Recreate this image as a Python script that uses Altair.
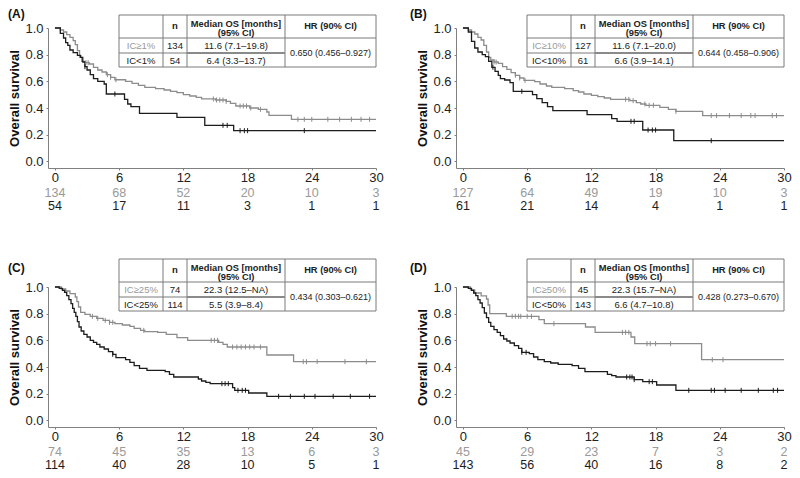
import altair as alt
import pandas as pd

# ---------------- data ----------------
RISK_T = [0, 6, 12, 18, 24, 30]
Y_TICKS = [0.0, 0.2, 0.4, 0.6, 0.8, 1.0]

# Panel A
tA_hi = [0, 0.5, 0.8, 1.1, 1.4, 1.7, 1.9, 2.1, 2.3, 2.5, 2.8, 3.2, 3.6, 4.0, 4.4, 4.8, 5.2, 5.6, 6.6, 7.2, 7.8, 8.4, 9.4, 10.2, 10.8, 11.4, 12.0, 12.6, 13.2, 13.7, 15.0, 16.0, 16.4, 16.9, 18.2, 19.0, 19.8, 20.0, 22.1, 30]
sA_hi = [1.0, 0.985, 0.97, 0.95, 0.93, 0.905, 0.875, 0.83, 0.78, 0.75, 0.74, 0.73, 0.705, 0.685, 0.67, 0.65, 0.63, 0.612, 0.6, 0.585, 0.57, 0.555, 0.545, 0.535, 0.525, 0.515, 0.5, 0.49, 0.48, 0.468, 0.46, 0.45, 0.435, 0.415, 0.4, 0.39, 0.37, 0.345, 0.315, 0.315]
tA_lo = [0, 0.5, 0.8, 1.0, 1.2, 1.4, 1.7, 2.1, 2.4, 2.6, 2.8, 3.0, 3.3, 3.6, 4.0, 4.6, 4.8, 6.5, 6.8, 7.1, 7.9, 11.4, 14.0, 16.7, 30]
sA_lo = [1.0, 0.96, 0.925, 0.89, 0.87, 0.835, 0.815, 0.795, 0.78, 0.745, 0.71, 0.685, 0.65, 0.62, 0.6, 0.58, 0.505, 0.465, 0.43, 0.41, 0.36, 0.33, 0.27, 0.23, 0.23]
cA_hi = [2.9, 3.1, 4.9, 5.2, 5.7, 14.8, 15.1, 15.4, 15.7, 16.0, 17.3, 17.6, 17.9, 18.3, 19.2, 22.7, 23.3, 24.0, 25.5, 26.6, 27.7, 28.6, 29.4]
cA_lo = [2.8, 5.6, 15.7, 16.1, 17.3, 17.7, 18.0, 23.3]
rA_hi = [134, 68, 52, 20, 10, 3]
rA_lo = [54, 17, 11, 3, 1, 1]
tabA_lab = ["IC\u22651%", "IC<1%"]
tabA_n = ["134", "54"]
tabA_med = ["11.6 (7.1\u201319.8)", "6.4 (3.3\u201313.7)"]
tabA_hr = "0.650 (0.456\u20130.927)"

# Panel B
tB_hi = [0, 0.5, 0.8, 1.1, 1.4, 1.7, 1.95, 2.2, 2.4, 2.6, 2.9, 3.3, 3.7, 4.1, 4.5, 4.9, 5.3, 5.7, 6.7, 7.2, 7.8, 8.3, 9.5, 10.3, 10.8, 11.3, 12.0, 12.6, 13.2, 13.8, 15.6, 16.2, 16.6, 17.1, 18.4, 19.2, 19.9, 22.4, 30]
sB_hi = [1.0, 0.985, 0.97, 0.955, 0.93, 0.91, 0.87, 0.82, 0.78, 0.76, 0.745, 0.735, 0.71, 0.69, 0.665, 0.645, 0.625, 0.607, 0.598, 0.58, 0.565, 0.555, 0.545, 0.53, 0.52, 0.505, 0.495, 0.485, 0.475, 0.465, 0.455, 0.44, 0.43, 0.42, 0.405, 0.39, 0.375, 0.343, 0.343]
tB_lo = [0, 0.5, 0.8, 1.1, 1.4, 1.8, 2.1, 2.4, 2.7, 3.0, 3.3, 3.5, 3.9, 4.4, 4.7, 6.5, 6.9, 7.4, 7.9, 8.4, 11.6, 13.9, 14.4, 16.8, 19.7, 30]
sB_lo = [1.0, 0.97, 0.9, 0.85, 0.82, 0.8, 0.785, 0.75, 0.705, 0.675, 0.645, 0.62, 0.61, 0.59, 0.525, 0.5, 0.47, 0.44, 0.41, 0.38, 0.35, 0.32, 0.30, 0.235, 0.155, 0.155]
cB_hi = [2.9, 3.1, 4.9, 5.3, 5.8, 15.2, 15.5, 15.9, 17.0, 17.4, 17.8, 19.9, 23.2, 23.7, 24.9, 26.0, 26.9, 27.3, 28.9, 29.3]
cB_lo = [2.8, 5.5, 15.7, 16.0, 17.3, 17.7, 18.0, 23.2]
rB_hi = [127, 64, 49, 19, 10, 3]
rB_lo = [61, 21, 14, 4, 1, 1]
tabB_lab = ["IC\u226510%", "IC<10%"]
tabB_n = ["127", "61"]
tabB_med = ["11.6 (7.1\u201320.0)", "6.6 (3.9\u201314.1)"]
tabB_hr = "0.644 (0.458\u20130.906)"

# Panel C
tC_hi = [0, 0.6, 1.0, 1.4, 1.9, 2.05, 2.2, 2.4, 2.8, 3.3, 3.9, 4.5, 5.1, 5.6, 6.3, 7.0, 7.4, 8.0, 8.4, 9.6, 10.4, 11.4, 12.4, 15.3, 15.7, 16.1, 19.8, 22.3, 30]
sC_hi = [1.0, 0.985, 0.97, 0.95, 0.925, 0.89, 0.85, 0.81, 0.795, 0.78, 0.765, 0.75, 0.735, 0.725, 0.715, 0.705, 0.69, 0.675, 0.665, 0.66, 0.645, 0.62, 0.6, 0.585, 0.57, 0.55, 0.49, 0.44, 0.44]
tC_lo = [0, 0.4, 0.7, 0.9, 1.1, 1.3, 1.5, 1.65, 1.8, 1.95, 2.1, 2.25, 2.45, 2.7, 3.0, 3.3, 3.6, 3.9, 4.2, 4.6, 5.0, 5.4, 5.7, 6.6, 7.0, 7.4, 7.9, 8.6, 10.3, 10.7, 11.1, 13.4, 13.7, 14.1, 14.5, 16.6, 16.8, 18.1, 19.8, 30]
sC_lo = [1.0, 0.99, 0.975, 0.96, 0.935, 0.905, 0.875, 0.84, 0.81, 0.78, 0.74, 0.7, 0.67, 0.645, 0.625, 0.6, 0.585, 0.57, 0.55, 0.535, 0.515, 0.495, 0.47, 0.455, 0.435, 0.41, 0.39, 0.375, 0.365, 0.345, 0.325, 0.31, 0.295, 0.285, 0.275, 0.245, 0.225, 0.205, 0.18, 0.18]
cC_hi = [3.5, 4.0, 4.7, 5.1, 5.4, 8.3, 14.6, 14.9, 15.2, 16.6, 17.0, 17.4, 17.8, 18.2, 18.6, 19.2, 23.2, 23.5, 24.5, 27.1, 29.1]
cC_lo = [5.4, 15.6, 15.9, 16.2, 17.1, 17.5, 17.8, 20.9, 22.0, 23.3, 24.3, 26.0, 27.6, 29.4]
rC_hi = [74, 45, 35, 13, 6, 3]
rC_lo = [114, 40, 28, 10, 5, 1]
tabC_lab = ["IC\u226525%", "IC<25%"]
tabC_n = ["74", "114"]
tabC_med = ["22.3 (12.5\u2013NA)", "5.5 (3.9\u20138.4)"]
tabC_hr = "0.434 (0.303\u20130.621)"

# Panel D
tD_hi = [0, 0.7, 1.1, 1.7, 2.2, 2.35, 2.5, 4.05, 7.1, 7.6, 11.45, 12.35, 15.7, 16.05, 22.3, 30]
sD_hi = [1.0, 0.978, 0.955, 0.933, 0.91, 0.865, 0.8, 0.78, 0.755, 0.725, 0.70, 0.66, 0.625, 0.575, 0.455, 0.455]
tD_lo = [0, 0.5, 0.8, 1.0, 1.2, 1.4, 1.6, 1.8, 2.0, 2.2, 2.4, 2.6, 2.9, 3.2, 3.5, 3.8, 4.1, 4.4, 4.8, 5.2, 5.5, 6.2, 6.6, 7.0, 7.6, 8.2, 8.9, 10.2, 10.8, 11.4, 13.5, 13.9, 14.3, 16.0, 16.8, 18.1, 19.9, 30]
sD_lo = [1.0, 0.99, 0.975, 0.955, 0.935, 0.905, 0.88, 0.845, 0.805, 0.77, 0.735, 0.705, 0.68, 0.66, 0.635, 0.61, 0.595, 0.58, 0.56, 0.54, 0.51, 0.5, 0.475, 0.455, 0.44, 0.43, 0.42, 0.41, 0.39, 0.365, 0.345, 0.335, 0.325, 0.305, 0.29, 0.265, 0.225, 0.225]
cD_hi = [4.6, 4.9, 5.2, 5.4, 6.0, 6.4, 8.5, 14.9, 15.2, 15.5, 17.2, 17.5, 18.0, 19.4, 23.3, 24.3]
cD_lo = [5.5, 5.9, 15.3, 15.6, 15.8, 16.0, 17.4, 17.7, 21.1, 23.2, 23.5, 24.5, 26.0, 27.6, 29.0, 29.4]
rD_hi = [45, 29, 23, 7, 3, 2]
rD_lo = [143, 56, 40, 16, 8, 2]
tabD_lab = ["IC\u226550%", "IC<50%"]
tabD_n = ["45", "143"]
tabD_med = ["22.3 (15.7\u2013NA)", "6.6 (4.7\u201310.8)"]
tabD_hr = "0.428 (0.273\u20130.670)"

# ---------------- style ----------------
W, H = 328, 140
GRAY = "#8c8c8c"
BLACK = "#1c1c1c"
GRAY_TXT = "#9a9a9a"
LINE = "#7a7a7a"
AXIS = "#808080"
FONT = "Liberation Sans, Arial, sans-serif"


def step_at(ts, ss, t):
    v = ss[0]
    for ti, si in zip(ts, ss):
        if ti <= t:
            v = si
    return v


ONE = pd.DataFrame({"k": [0]})


def vtext(txt, x, y, size=10, bold=False, color="#222222", align="center", baseline="middle"):
    return alt.Chart(ONE).mark_text(
        fontSize=size, fontWeight="bold" if bold else "normal", color=color,
        align=align, baseline=baseline, font=FONT
    ).encode(x=alt.value(x), y=alt.value(y), text=alt.value(txt))


def vrule(x1, y1, x2=None, y2=None, width=1.0, color=LINE):
    enc = dict(x=alt.value(x1), y=alt.value(y1))
    if x2 is not None:
        enc["x2"] = alt.value(x2)
    if y2 is not None:
        enc["y2"] = alt.value(y2)
    return alt.Chart(ONE).mark_rule(color=color, strokeWidth=width).encode(**enc)


def panel(label, th, sh, tl, sl, ch, cl, rh, rl, lab, nn, med, hr, T, lab_x, lab_y, lab_base):
    km_hi = pd.DataFrame({"time": th, "surv": sh})
    km_lo = pd.DataFrame({"time": tl, "surv": sl})
    cens_hi = pd.DataFrame({"time": ch, "surv": [step_at(th, sh, t) for t in ch]})
    cens_lo = pd.DataFrame({"time": cl, "surv": [step_at(tl, sl, t) for t in cl]})

    xscale = alt.Scale(domain=[-0.65, 30], nice=False, zero=False)
    yscale = alt.Scale(domain=[-0.05, 1.0], nice=False, zero=False)
    xenc = alt.X("time:Q", scale=xscale,
                 axis=alt.Axis(values=RISK_T, tickCount=12, title=None, grid=False, tickSize=2,
                               labelPadding=1, labelFontSize=13, labelColor="#222222",
                               domainColor=AXIS, tickColor=AXIS, labelFlush=False,
                               labelOverlap=False, labelFont=FONT))
    yenc = alt.Y("surv:Q", scale=yscale,
                 axis=alt.Axis(values=Y_TICKS, tickCount=12, format=".1f", title="Overall survival",
                               grid=False, tickSize=2, labelPadding=3, labelFontSize=13,
                               labelColor="#222222", domainColor=AXIS, tickColor=AXIS,
                               labelOverlap=False, labelFlush=False,
                               titleFontSize=13, titleFontWeight="bold", titleColor="#111111",
                               titlePadding=3, labelFont=FONT, titleFont=FONT))

    line_hi = alt.Chart(km_hi).mark_line(interpolate="step-after", strokeWidth=1.3, color=GRAY).encode(
        x=xenc, y=yenc)
    line_lo = alt.Chart(km_lo).mark_line(interpolate="step-after", strokeWidth=1.3, color=BLACK).encode(
        x="time:Q", y="surv:Q")
    tick_hi = alt.Chart(cens_hi).mark_point(shape="M0,-1L0,1", size=25, filled=False, strokeWidth=1,
                                            color=GRAY, opacity=1).encode(x="time:Q", y="surv:Q")
    tick_lo = alt.Chart(cens_lo).mark_point(shape="M0,-1L0,1", size=25, filled=False, strokeWidth=1,
                                            color=BLACK, opacity=1).encode(x="time:Q", y="surv:Q")

    risk_hi = alt.Chart(pd.DataFrame({"time": RISK_T, "n": [str(v) for v in rh]})).mark_text(
        fontSize=12.5, color=GRAY_TXT, font=FONT).encode(x="time:Q", y=alt.value(165), text="n:N")
    risk_lo = alt.Chart(pd.DataFrame({"time": RISK_T, "n": [str(v) for v in rl]})).mark_text(
        fontSize=12.5, color=BLACK, font=FONT).encode(x="time:Q", y=alt.value(177.5), text="n:N")

    # table
    L, C1, C2, C3, R = 71, 115, 139, 237, 328
    box = alt.Chart(ONE).mark_rect(fill="white", stroke=LINE, strokeWidth=1).encode(
        x=alt.value(L), x2=alt.value(R), y=alt.value(T), y2=alt.value(T + 52))
    tbl = [
        box,
        vrule(C1, T, y2=T + 52), vrule(C2, T, y2=T + 52), vrule(C3, T, y2=T + 52),
        vrule(L, T + 23, x2=R),
        vrule(L, T + 38, x2=C2),
        vrule(C2, T + 38, x2=C3, width=1.8, color="#8a8a8a"),
        vtext("n", (C1 + C2) / 2, T + 11, size=9.5, bold=True),
        vtext("Median OS [months]", (C2 + C3) / 2, T + 8.5, size=9.3, bold=True),
        vtext("(95% CI)", (C2 + C3) / 2, T + 18, size=9.3, bold=True),
        vtext("HR (90% CI)", (C3 + R) / 2, T + 11, size=9.3, bold=True),
        vtext(lab[0], (L + C1) / 2, T + 31, size=9.5, color=GRAY_TXT),
        vtext(lab[1], (L + C1) / 2, T + 45.5, size=9.5),
        vtext(nn[0], (C1 + C2) / 2, T + 31, size=9.5),
        vtext(nn[1], (C1 + C2) / 2, T + 45.5, size=9.5),
        vtext(med[0], (C2 + C3) / 2, T + 31, size=9.5),
        vtext(med[1], (C2 + C3) / 2, T + 45.5, size=9.5),
        vtext(hr, (C3 + R) / 2, T + 38, size=9),
    ]
    plabel = vtext(label, lab_x, lab_y, size=12, bold=True, color="#111111", align="left", baseline=lab_base)

    return alt.layer(line_hi, line_lo, tick_hi, tick_lo, risk_hi, risk_lo, *tbl, plabel).properties(
        width=W, height=H)


pA = panel("(A)", tA_hi, sA_hi, tA_lo, sA_lo, cA_hi, cA_lo, rA_hi, rA_lo,
           tabA_lab, tabA_n, tabA_med, tabA_hr, -13, -40, -19, "top")
pB = panel("(B)", tB_hi, sB_hi, tB_lo, sB_lo, cB_hi, cB_lo, rB_hi, rB_lo,
           tabB_lab, tabB_n, tabB_med, tabB_hr, -13, -46, -19, "top")
pC = panel("(C)", tC_hi, sC_hi, tC_lo, sC_lo, cC_hi, cC_lo, rC_hi, rC_lo,
           tabC_lab, tabC_n, tabC_med, tabC_hr, -28, -40, -19, "middle")
pD = panel("(D)", tD_hi, sD_hi, tD_lo, sD_lo, cD_hi, cD_lo, rD_hi, rD_lo,
           tabD_lab, tabD_n, tabD_med, tabD_hr, -28, -46, -19, "middle")

chart = alt.concat(pA, pB, pC, pD, columns=2, spacing={"row": 119, "column": 80},
                   bounds="flush").properties(padding=0).configure(font=FONT).configure_view(
    strokeWidth=0, stroke="transparent").configure_axis(grid=False, labelOverlap=False, labelFlush=False)

chart.save("out.html", embed_options={"renderer": "svg", "actions": False})
